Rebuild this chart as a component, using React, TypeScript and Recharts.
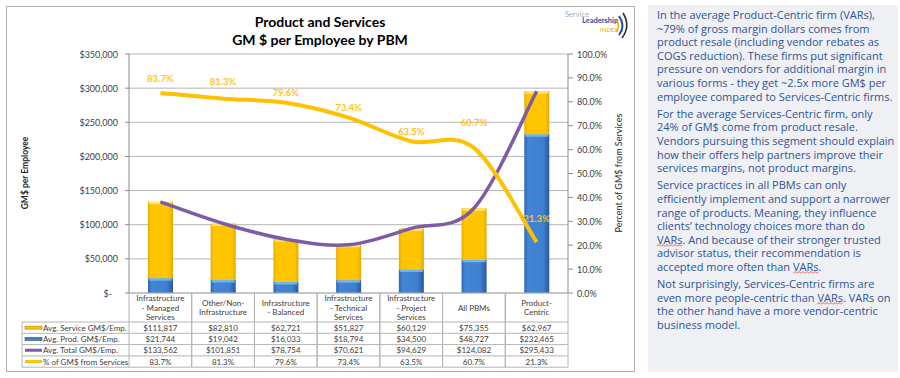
import React from 'react';
import { ComposedChart, Bar, Line, XAxis, YAxis, CartesianGrid, LabelList } from 'recharts';

// ---------- data ----------
const categories = [
  'Infrastructure\n- Managed\nServices',
  'Other/Non-\nInfrastructure',
  'Infrastructure\n- Balanced',
  'Infrastructure\n- Technical\nServices',
  'Infrastructure\n- Project\nServices',
  'All PBMs',
  'Product-\nCentric',
];
const serviceGM = [111817, 82810, 62721, 51827, 60129, 75355, 62967];
const prodGM = [21744, 19042, 16033, 18794, 34500, 48727, 232465];
const totalGM = [133562, 101851, 78754, 70621, 94629, 124082, 295433];
const pctServices = [83.7, 81.3, 79.6, 73.4, 63.5, 60.7, 21.3];
const leftTicks = [0, 50000, 100000, 150000, 200000, 250000, 300000, 350000];
const rightTicks = [0, 10, 20, 30, 40, 50, 60, 70, 80, 90, 100];
const seriesNames = ['Avg. Service GM$/Emp.', 'Avg. Prod. GM$/Emp.', 'Avg. Total GM$/Emp.', '% of GM$ from Services'];

const para1 = [
  'In the average Product-Centric firm (VARs),',
  '~79% of gross margin dollars comes from',
  'product resale (including vendor rebates as',
  'COGS reduction). These firms put significant',
  'pressure on vendors for additional margin in',
  'various forms - they get ~2.5x more GM$ per',
  'employee compared to Services-Centric firms.',
];
const para2 = [
  'For the average Services-Centric firm, only',
  '24% of GM$ come from product resale.',
  'Vendors pursuing this segment should explain',
  'how their offers help partners improve their',
  'services margins, not product margins.',
];
const para3 = [
  'Service practices in all PBMs can only',
  'efficiently implement and support a narrower',
  'range of products. Meaning, they influence',
  'clients\u2019 technology choices more than do',
  '{VARs}. And because of their stronger trusted',
  'advisor status, their recommendation is',
  'accepted more often than {VARs}.',
];
const para4 = [
  'Not surprisingly, Services-Centric firms are',
  'even more people-centric than {VARs}. VARs on',
  'the other hand have a more vendor-centric',
  'business model.',
];

// ---------- layout / style ----------
const CHART_W = 640;
const CHART_H = 378;
const PLOT_L = 129;
const PLOT_R = 568;
const PLOT_T = 54;
const PLOT_B = 293;
const COL_W = (PLOT_R - PLOT_L) / categories.length;
const TABLE_L = 22;
const HEADER_H = 29;
const ROW_H = 11.3;
const LABEL_DY = [14, 17, 10, 10, 10, 25, 24];
const FONT = 'Lato, "Liberation Sans", sans-serif';
const TXT = '#404040';
const GRID = '#b4b4b4';
const YELLOW = '#ffc000';
const PURPLE = '#7d5ba6';
const BLUE = '#3f7fd0';

const data = categories.map((c, i) => ({
  cat: c,
  service: serviceGM[i],
  prod: prodGM[i],
  total: totalGM[i],
  pct: pctServices[i],
}));

const money = (v: number) => '$' + v.toLocaleString('en-US');

// Excel-like smoothed line (Catmull-Rom through points)
function excelCurve(context: any) {
  let pts: number[][] = [];
  return {
    areaStart() {},
    areaEnd() {},
    lineStart() {
      pts = [];
    },
    point(x: number, y: number) {
      pts.push([+x, +y]);
    },
    lineEnd() {
      const n = pts.length;
      if (!n) return;
      context.moveTo(pts[0][0], pts[0][1]);
      for (let i = 0; i < n - 1; i++) {
        const p0 = pts[i - 1] || pts[i];
        const p1 = pts[i];
        const p2 = pts[i + 1];
        const p3 = pts[i + 2] || p2;
        context.bezierCurveTo(
          p1[0] + (p2[0] - p0[0]) / 6,
          p1[1] + (p2[1] - p0[1]) / 6,
          p2[0] - (p3[0] - p1[0]) / 6,
          p2[1] - (p3[1] - p1[1]) / 6,
          p2[0],
          p2[1]
        );
      }
    },
  };
}

const makeBarShape = (gradId: string, hi: string) => (props: any) => {
  const { x, y, width, height } = props;
  if (!height || height <= 0) return <g />;
  return (
    <g>
      <rect x={x} y={y} width={width} height={height} fill={`url(#${gradId})`} />
      <rect x={x + 1} y={y} width={width - 2} height={Math.min(2.5, height)} fill={hi} opacity={0.85} />
    </g>
  );
};
const ServiceShape = makeBarShape('gYellow', '#ffe680');
const ProdShape = makeBarShape('gBlue', '#79bdf5');

const LeftTick = (props: any) => {
  const { x, y, payload } = props;
  const v = payload.value;
  return (
    <text x={v === 0 ? x - 6 : x} y={y} textAnchor="end" dominantBaseline="central" fontSize={9} fontFamily={FONT} fill={TXT}>
      {v === 0 ? '$-' : money(v)}
    </text>
  );
};

const RightTick = (props: any) => {
  const { x, y, payload } = props;
  return (
    <text x={x} y={y} textAnchor="start" dominantBaseline="central" fontSize={9} fontFamily={FONT} fill={TXT}>
      {payload.value.toFixed(1) + '%'}
    </text>
  );
};

const keyFor = (r: number, y: number) => {
  const x1 = TABLE_L + 3;
  const x2 = TABLE_L + 20;
  if (r === 0) return <rect x={x1} y={y - 1.5} width={x2 - x1} height={3} fill={YELLOW} stroke="#b08800" strokeWidth={0.6} />;
  if (r === 1) return <rect x={x1} y={y - 1.5} width={x2 - x1} height={3} fill={BLUE} stroke="#24508f" strokeWidth={0.6} />;
  if (r === 2) return <line x1={x1} x2={x2} y1={y} y2={y} stroke={PURPLE} strokeWidth={3} />;
  return <line x1={x1} x2={x2} y1={y} y2={y} stroke={YELLOW} strokeWidth={3} />;
};

const TableTick = (props: any) => {
  const { payload } = props;
  const i = categories.indexOf(payload.value);
  const cx = payload.coordinate;
  const top = PLOT_B;
  const hb = top + HEADER_H;
  const bottom = hb + ROW_H * 4;
  const l = cx - COL_W / 2;
  const r = cx + COL_W / 2;
  const lines = String(payload.value).split('\n');
  const lh = 9.2;
  const hc = top + HEADER_H / 2;
  const rowVals = [money(serviceGM[i]), money(prodGM[i]), money(totalGM[i]), pctServices[i].toFixed(1) + '%'];
  return (
    <g>
      <line x1={l} x2={l} y1={top} y2={bottom} stroke={GRID} />
      <line x1={r} x2={r} y1={top} y2={bottom} stroke={GRID} />
      {lines.map((t, k) => (
        <text
          key={k}
          x={cx}
          y={hc + (k - (lines.length - 1) / 2) * lh}
          textAnchor="middle"
          dominantBaseline="central"
          fontSize={8}
          fontFamily={FONT}
          fill={TXT}
        >
          {t}
        </text>
      ))}
      {[0, 1, 2, 3, 4].map((k) => (
        <line key={'h' + k} x1={i === 0 ? TABLE_L : l} x2={r} y1={hb + k * ROW_H} y2={hb + k * ROW_H} stroke={GRID} />
      ))}
      {rowVals.map((t, k) => (
        <text
          key={'v' + k}
          x={cx}
          y={hb + (k + 0.5) * ROW_H}
          textAnchor="middle"
          dominantBaseline="central"
          fontSize={8}
          fontFamily={FONT}
          fill={TXT}
        >
          {t}
        </text>
      ))}
      {i === 0 && (
        <g>
          <line x1={TABLE_L} x2={TABLE_L} y1={hb} y2={bottom} stroke={GRID} />
          {seriesNames.map((s, k) => {
            const yy = hb + (k + 0.5) * ROW_H;
            return (
              <g key={'lg' + k}>
                {keyFor(k, yy)}
                <text x={TABLE_L + 21} y={yy} dominantBaseline="central" fontSize={8} fontFamily={FONT} fill={TXT}>
                  {s}
                </text>
              </g>
            );
          })}
        </g>
      )}
    </g>
  );
};

const PctLabel = (props: any) => {
  const { x, y, value, index } = props;
  return (
    <text
      x={x}
      y={y - LABEL_DY[index]}
      textAnchor="middle"
      dominantBaseline="central"
      fontSize={9.5}
      fontWeight="bold"
      fontFamily={FONT}
      fill="#ffc21a"
    >
      {Number(value).toFixed(1) + '%'}
    </text>
  );
};

const Squiggle = ({ children }: { children: React.ReactNode }) => (
  <span style={{ position: 'relative', display: 'inline-block' }}>
    {children}
    <svg
      width="100%"
      height={3}
      style={{ position: 'absolute', left: 0, bottom: -1, overflow: 'hidden' }}
    >
      <defs>
        <pattern id="zig" width={4} height={3} patternUnits="userSpaceOnUse">
          <path d="M0,2.5 L2,0.5 L4,2.5" stroke="#e03030" strokeWidth={0.8} fill="none" />
        </pattern>
      </defs>
      <rect x={0} y={0} width="100%" height={3} fill="url(#zig)" />
    </svg>
  </span>
);

const renderLine = (s: string, key: number) => {
  const parts = s.split(/(\{VARs\})/);
  return (
    <div key={key} style={{ whiteSpace: 'pre', height: 13.6, lineHeight: '13.6px' }}>
      {parts.map((p, j) => (p === '{VARs}' ? <Squiggle key={j}>VARs</Squiggle> : <span key={j}>{p}</span>))}
    </div>
  );
};

export default function App() {
  return (
    <div style={{ position: 'absolute', left: 0, top: 0, width: 900, height: 378, background: '#ffffff', overflow: 'hidden' }}>
      {/* chart frame */}
      <div style={{ position: 'absolute', left: 6, top: 6, width: 627, height: 364, border: '1px solid #b0b0b0', background: '#fff' }} />
      <div style={{ position: 'absolute', left: 0, top: 0 }}>
        <ComposedChart
          width={CHART_W}
          height={CHART_H}
          data={data}
          margin={{ top: PLOT_T, right: 0, bottom: 0, left: 0 }}
          barSize={25}
        >
          <defs>
            <linearGradient id="gYellow" x1="0" y1="0" x2="1" y2="0">
              <stop offset="0%" stopColor="#eaa900" />
              <stop offset="12%" stopColor="#ffc600" />
              <stop offset="85%" stopColor="#ffc500" />
              <stop offset="100%" stopColor="#e5a600" />
            </linearGradient>
            <linearGradient id="gBlue" x1="0" y1="0" x2="1" y2="0">
              <stop offset="0%" stopColor="#2d64b3" />
              <stop offset="15%" stopColor="#4386d6" />
              <stop offset="75%" stopColor="#3f7fcf" />
              <stop offset="100%" stopColor="#285a9f" />
            </linearGradient>
          </defs>
          <CartesianGrid yAxisId="left" vertical={false} stroke={GRID} strokeWidth={1} />
          <XAxis
            dataKey="cat"
            height={CHART_H - PLOT_B - 0}
            interval={0}
            tickLine={false}
            tickSize={0}
            tickMargin={0}
            axisLine={{ stroke: GRID }}
            tick={<TableTick />}
          />
          <YAxis
            yAxisId="left"
            width={PLOT_L}
            domain={[0, 350000]}
            ticks={leftTicks}
            interval={0}
            tickSize={4}
            tickMargin={7}
            axisLine={{ stroke: '#8c8c8c' }}
            tickLine={{ stroke: '#8c8c8c' }}
            tick={<LeftTick />}
          />
          <YAxis
            yAxisId="right"
            orientation="right"
            width={CHART_W - PLOT_R}
            domain={[0, 100]}
            ticks={rightTicks}
            interval={0}
            tickSize={5}
            tickMargin={4}
            axisLine={{ stroke: '#8c8c8c' }}
            tickLine={{ stroke: '#8c8c8c' }}
            tick={<RightTick />}
          />
          <Bar yAxisId="left" dataKey="prod" stackId="a" shape={ProdShape} isAnimationActive={false} />
          <Bar yAxisId="left" dataKey="service" stackId="a" shape={ServiceShape} isAnimationActive={false} />
          <Line
            yAxisId="left"
            dataKey="total"
            type={excelCurve as any}
            stroke={PURPLE}
            strokeWidth={3.5}
            dot={false}
            activeDot={false}
            isAnimationActive={false}
          />
          <Line
            yAxisId="right"
            dataKey="pct"
            type={excelCurve as any}
            stroke={YELLOW}
            strokeWidth={4}
            dot={false}
            activeDot={false}
            isAnimationActive={false}
          >
            <LabelList dataKey="pct" content={<PctLabel />} />
          </Line>
        </ComposedChart>
      </div>
      {/* titles, axis titles, logo */}
      <svg width={CHART_W} height={CHART_H} style={{ position: 'absolute', left: 0, top: 0, pointerEvents: 'none' }}>
        <text x={320} y={21} textAnchor="middle" dominantBaseline="central" fontSize={14} fontWeight="bold" fontFamily={FONT} fill="#000">
          Product and Services
        </text>
        <text x={320} y={39} textAnchor="middle" dominantBaseline="central" fontSize={14} fontWeight="bold" fontFamily={FONT} fill="#000">
          GM $ per Employee by PBM
        </text>
        <text
          x={25}
          y={173}
          transform="rotate(-90 25 173)"
          textAnchor="middle"
          dominantBaseline="central"
          fontSize={8.5}
          fontWeight="bold"
          fontFamily={FONT}
          fill="#262626"
        >
          GM$ per Employee
        </text>
        <text
          x={618}
          y={173}
          transform="rotate(-90 618 173)"
          textAnchor="middle"
          dominantBaseline="central"
          fontSize={9}
          fontFamily={FONT}
          fill="#262626"
        >
          Percent of GM$ from Services
        </text>
        {/* logo */}
        <text x={565} y={17} fontSize={7.5} fontFamily={FONT} fill="#a3adbb">Service</text>
        <text x={582} y={23} fontSize={7.5} fontWeight="bold" fontFamily={FONT} fill="#1f4e9a">Leadership</text>
        <text x={600} y={32} fontSize={6} fontFamily={FONT} fill="#e6ad00">INDEX</text>
        <path d="M616,20 Q621,26 616,32" stroke="#f0b400" strokeWidth={1.6} fill="none" />
        <path d="M619,16 Q626,26 619,35" stroke="#1f4e9a" strokeWidth={2} fill="none" />
        <path d="M623,13 Q631,26 622,38" stroke="#2b2b2b" strokeWidth={1.6} fill="none" />
      </svg>
      {/* text panel */}
      <div
        style={{
          position: 'absolute',
          left: 648,
          top: 5,
          width: 250,
          height: 367,
          background: '#eef0f4',
        }}
      />
      <div
        style={{
          position: 'absolute',
          left: 657,
          top: 8,
          fontFamily: '"Open Sans", "Noto Sans", sans-serif',
          fontSize: 11,
          color: '#2f5496',
        }}
      >
        {[para1, para2, para3, para4].map((p, pi) => (
          <div key={pi} style={{ marginBottom: 3.6 }}>
            {p.map((s, si) => renderLine(s, si))}
          </div>
        ))}
      </div>
    </div>
  );
}
